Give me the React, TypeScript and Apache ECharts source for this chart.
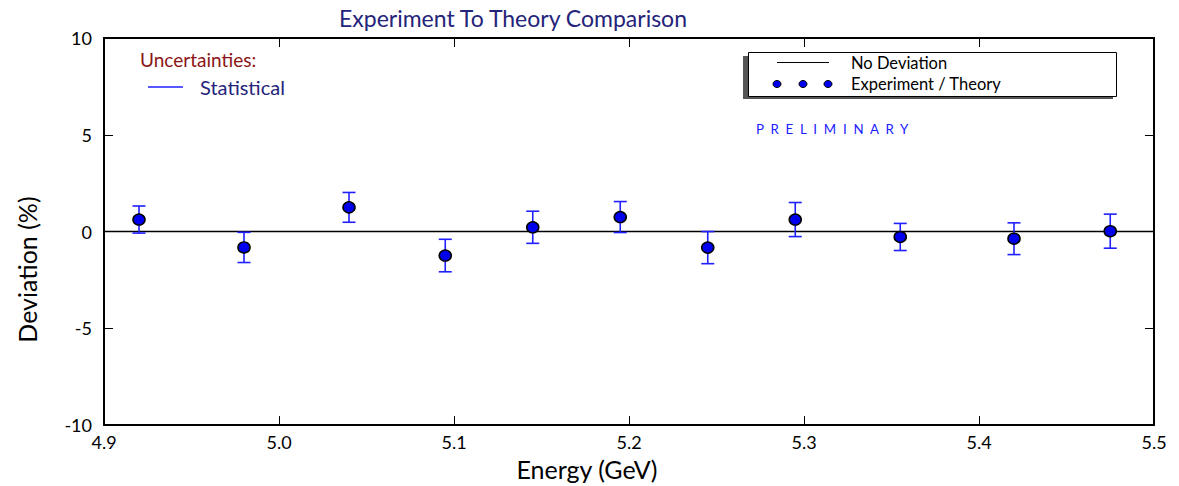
import React, { useEffect, useRef } from "react";
import * as echarts from "echarts";

const energies = [4.92, 4.98, 5.04, 5.095, 5.145, 5.195, 5.245, 5.295, 5.355, 5.42, 5.475];
const deviations = [0.62, -0.82, 1.25, -1.24, 0.22, 0.75, -0.83, 0.62, -0.28, -0.37, 0.02];
const statErrors = [0.7, 0.78, 0.77, 0.84, 0.83, 0.8, 0.83, 0.88, 0.7, 0.82, 0.88];
const xRange = [4.9, 5.5];
const yRange = [-10, 10];

const FONT = "Lato";
const NAVY = "#24247a";
const BLUE = "#2020ff";

export default function App() {
  const ref = useRef<HTMLDivElement>(null);
  useEffect(() => {
    if (!ref.current) return;
    const chart = echarts.init(ref.current, null, { renderer: "svg" });
    const axisCommon = {
      type: "value",
      axisLine: { show: true, onZero: false, lineStyle: { color: "#000", width: 2 } },
      axisTick: { show: true, inside: true, length: 9, lineStyle: { color: "#000", width: 1 } },
      splitLine: { show: false },
    };
    const errData = energies.map((e, i) => [e, deviations[i], statErrors[i]]);
    const ptData = energies.map((e, i) => [e, deviations[i]]);
    chart.setOption({
      animation: false,
      backgroundColor: "#fff",
      textStyle: { fontFamily: FONT },
      title: {
        text: "Experiment To Theory Comparison",
        left: 508,
        textAlign: "center",
        top: 1,
        textStyle: { fontFamily: FONT, fontSize: 23, fontWeight: "normal", color: NAVY },
      },
      grid: { left: 104, right: 25, top: 38, bottom: 60 },
      xAxis: [
        {
          ...axisCommon,
          position: "bottom",
          min: xRange[0],
          max: xRange[1],
          interval: 0.1,
          name: "Energy (GeV)",
          nameLocation: "middle",
          nameGap: 26,
          nameTextStyle: {
            fontFamily: FONT,
            fontSize: 25,
            color: "#000",
            verticalAlign: "top",
            padding: [0, 84, 0, 0],
          },
          axisLabel: {
            fontFamily: FONT,
            fontSize: 18,
            color: "#000",
            margin: 8,
            formatter: (v: number) => v.toFixed(1),
          },
        },
        {
          ...axisCommon,
          position: "top",
          min: xRange[0],
          max: xRange[1],
          interval: 0.1,
          axisLabel: { show: false },
        },
      ],
      yAxis: [
        {
          ...axisCommon,
          position: "left",
          min: yRange[0],
          max: yRange[1],
          interval: 5,
          name: "Deviation (%)",
          nameLocation: "middle",
          nameGap: 65,
          nameTextStyle: { fontFamily: FONT, fontSize: 25, color: "#000", padding: [0, 76, 0, 0] },
          axisLabel: { fontFamily: FONT, fontSize: 18, color: "#000", margin: 12 },
        },
        {
          ...axisCommon,
          position: "right",
          min: yRange[0],
          max: yRange[1],
          interval: 5,
          axisLabel: { show: false },
        },
      ],
      series: [
        {
          name: "No Deviation",
          type: "line",
          data: [
            [xRange[0], 0],
            [xRange[1], 0],
          ],
          symbol: "none",
          lineStyle: { color: "#000", width: 1.5 },
          z: 1,
        },
        {
          name: "Statistical",
          type: "custom",
          data: errData,
          z: 2,
          renderItem: (params: any, api: any) => {
            const x = api.value(0);
            const y = api.value(1);
            const e = api.value(2);
            const top = api.coord([x, y + e]);
            const bot = api.coord([x, y - e]);
            const hw = 6.5;
            const st = { stroke: BLUE, lineWidth: 1.6 };
            return {
              type: "group",
              children: [
                { type: "line", shape: { x1: top[0], y1: top[1], x2: bot[0], y2: bot[1] }, style: st },
                { type: "line", shape: { x1: top[0] - hw, y1: top[1], x2: top[0] + hw, y2: top[1] }, style: st },
                { type: "line", shape: { x1: bot[0] - hw, y1: bot[1], x2: bot[0] + hw, y2: bot[1] }, style: st },
              ],
            };
          },
        },
        {
          name: "Experiment / Theory",
          type: "scatter",
          data: ptData,
          symbol: "circle",
          symbolSize: [12, 11],
          itemStyle: { color: "#0000ee", borderColor: "#000", borderWidth: 1.5, opacity: 1 },
          z: 3,
        },
      ],
      graphic: [
        {
          type: "text",
          left: 140,
          top: 50,
          style: { text: "Uncertainties:", fontFamily: FONT, fontSize: 19, fill: "#8b1515" },
        },
        {
          type: "line",
          shape: { x1: 148, y1: 87, x2: 183, y2: 87 },
          style: { stroke: BLUE, lineWidth: 1.5 },
        },
        {
          type: "text",
          left: 200,
          top: 77,
          style: { text: "Statistical", fontFamily: FONT, fontSize: 20, fill: NAVY },
        },
        {
          type: "rect",
          shape: { x: 743, y: 56, width: 370, height: 43 },
          style: { fill: "#555" },
          z: 10,
        },
        {
          type: "rect",
          shape: { x: 748.5, y: 52.5, width: 368, height: 44 },
          style: { fill: "#fff", stroke: "#000", lineWidth: 1 },
          z: 11,
        },
        {
          type: "line",
          shape: { x1: 777, y1: 62.5, x2: 829, y2: 62.5 },
          style: { stroke: "#000", lineWidth: 1 },
          z: 12,
        },
        ...[777, 803, 828].map((cx) => ({
          type: "ellipse",
          shape: { cx, cy: 84, rx: 4, ry: 3.5 },
          style: { fill: "#0000ee", stroke: "#000", lineWidth: 1 },
          z: 12,
        })),
        {
          type: "text",
          x: 851,
          y: 63,
          style: { text: "No Deviation", fontFamily: FONT, fontSize: 16.5, fill: "#000", verticalAlign: "middle" },
          z: 12,
        },
        {
          type: "text",
          x: 851,
          y: 84,
          style: { text: "Experiment / Theory", fontFamily: FONT, fontSize: 16.5, fill: "#000", verticalAlign: "middle" },
          z: 12,
        },
        {
          type: "text",
          x: 756,
          y: 129,
          style: {
            text: "P  R  E  L  I  M  I  N  A  R  Y",
            fontFamily: FONT,
            fontSize: 13.3,
            fill: BLUE,
            verticalAlign: "middle",
          },
          z: 12,
        },
      ],
    });
    return () => chart.dispose();
  }, []);
  return (
    <div
      ref={ref}
      style={{ position: "fixed", left: 0, top: 0, width: 1179, height: 486 }}
    />
  );
}
